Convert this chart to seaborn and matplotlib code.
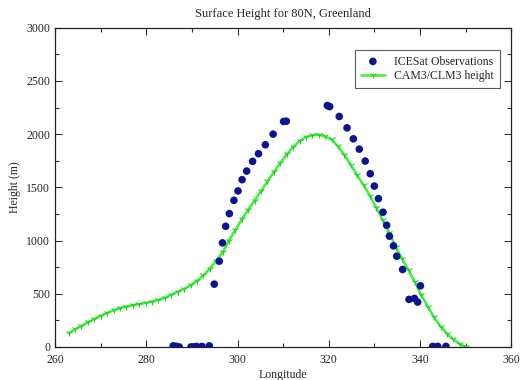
import matplotlib
matplotlib.use("Agg")
import matplotlib.pyplot as plt
import seaborn as sns
import pandas as pd
from matplotlib.ticker import MultipleLocator

# ICESat observations
obs_lon = [285.9, 286.6, 287.2, 289.8, 290.4, 291.0, 292.2, 293.8,
           294.9, 296.0, 296.7, 297.4, 298.2, 299.2, 300.1, 301.0, 302.0,
           303.3, 304.6, 306.1, 307.8, 310.1, 310.7,
           319.7, 320.2, 322.3, 324.0, 325.4, 326.7, 328.0, 329.1, 330.0,
           330.9, 331.9, 332.7, 333.3, 334.2, 334.9, 336.2, 337.6, 338.8,
           339.5, 340.1, 342.8, 343.9, 345.7]
obs_h = [10, 5, 0, 0, 0, 5, 5, 10,
         590, 806, 978, 1134, 1253, 1378, 1466, 1572, 1653,
         1744, 1816, 1900, 2000, 2119, 2122,
         2269, 2259, 2166, 2059, 1956, 1859, 1747, 1628, 1512,
         1394, 1266, 1144, 1041, 950, 853, 728, 447, 456,
         422, 575, 5, 5, 5]

# CAM3/CLM3 model height
cam_lon = [262.97, 264.38, 265.78, 267.19, 268.59, 270.0, 271.41, 272.81,
           274.22, 275.62, 277.03, 278.44, 279.84, 281.25, 282.66, 284.06,
           285.47, 286.88, 288.28, 289.69, 291.09, 292.5, 293.91, 295.31,
           296.72, 298.12, 299.53, 300.94, 302.34, 303.75, 305.16, 306.56,
           307.97, 309.38, 310.78, 312.19, 313.59, 315.0, 316.41, 317.81,
           319.22, 320.62, 322.03, 323.44, 324.84, 326.25, 327.66, 329.06,
           330.47, 331.88, 333.28, 334.69, 336.09, 337.5, 338.91, 340.31,
           341.72, 343.12, 344.53, 345.94, 347.34, 348.75, 350.16]
cam_h = [130, 165, 198, 232, 262, 292, 320, 344,
         364, 380, 392, 402, 413, 426, 442, 462,
         490, 518, 545, 580, 620, 672, 735, 810,
         890, 1000, 1100, 1200, 1290, 1375, 1465, 1555,
         1645, 1730, 1810, 1880, 1935, 1972, 1990, 1995,
         1978, 1950, 1885, 1805, 1710, 1612, 1520, 1420,
         1305, 1190, 1075, 940, 830, 720, 610, 485,
         380, 278, 192, 125, 70, 25, 0]

x_ticks = [260, 280, 300, 320, 340, 360]
y_ticks = [0, 500, 1000, 1500, 2000, 2500, 3000]

sns.set_style("ticks")
plt.rcParams['font.family'] = ['Liberation Serif', 'DejaVu Serif']

fig = plt.figure(figsize=(5.2, 3.8), dpi=100)
ax = fig.add_axes([0.106, 0.087, 0.877, 0.840])

df_cam = pd.DataFrame({"lon": cam_lon, "h": cam_h})
df_obs = pd.DataFrame({"lon": obs_lon, "h": obs_h})

sns.lineplot(data=df_cam, x="lon", y="h", ax=ax, color="#3cf03c", lw=1.8,
             marker="1", markersize=5, markeredgewidth=0.8,
             markeredgecolor="#22cc22", label="CAM3/CLM3 height", zorder=2)
sns.scatterplot(data=df_obs, x="lon", y="h", ax=ax, color="#0a1490",
                s=30, edgecolor="none", label="ICESat Observations", zorder=3)

ax.set_xlim(260, 360)
ax.set_ylim(0, 3000)
ax.set_xticks(x_ticks)
ax.set_yticks(y_ticks)
ax.xaxis.set_minor_locator(MultipleLocator(10))
ax.yaxis.set_minor_locator(MultipleLocator(250))
ax.tick_params(which="both", direction="in", top=True, right=True,
               labelsize=8.5, width=0.8, color="#333333")
ax.tick_params(which="major", length=5)
ax.tick_params(which="minor", length=3)
ax.tick_params(axis="x", pad=5)
for s in ax.spines.values():
    s.set_linewidth(0.9)
    s.set_color("#222222")

ax.set_xlabel("Longitude", fontsize=8.5, labelpad=2)
ax.set_ylabel("Height (m)", fontsize=8.5)
ax.set_title("Surface Height for 80N, Greenland", fontsize=9, pad=8)

handles, labels = ax.get_legend_handles_labels()
order = [labels.index("ICESat Observations"), labels.index("CAM3/CLM3 height")]
leg = ax.legend([handles[i] for i in order], [labels[i] for i in order],
                loc="upper right", bbox_to_anchor=(0.988, 0.95),
                fontsize=8.5, frameon=True, fancybox=False, edgecolor="#333333",
                borderpad=0.5, handlelength=2.0, labelspacing=0.25)
leg.get_frame().set_linewidth(0.8)

fig.savefig("out.png", dpi=100)
